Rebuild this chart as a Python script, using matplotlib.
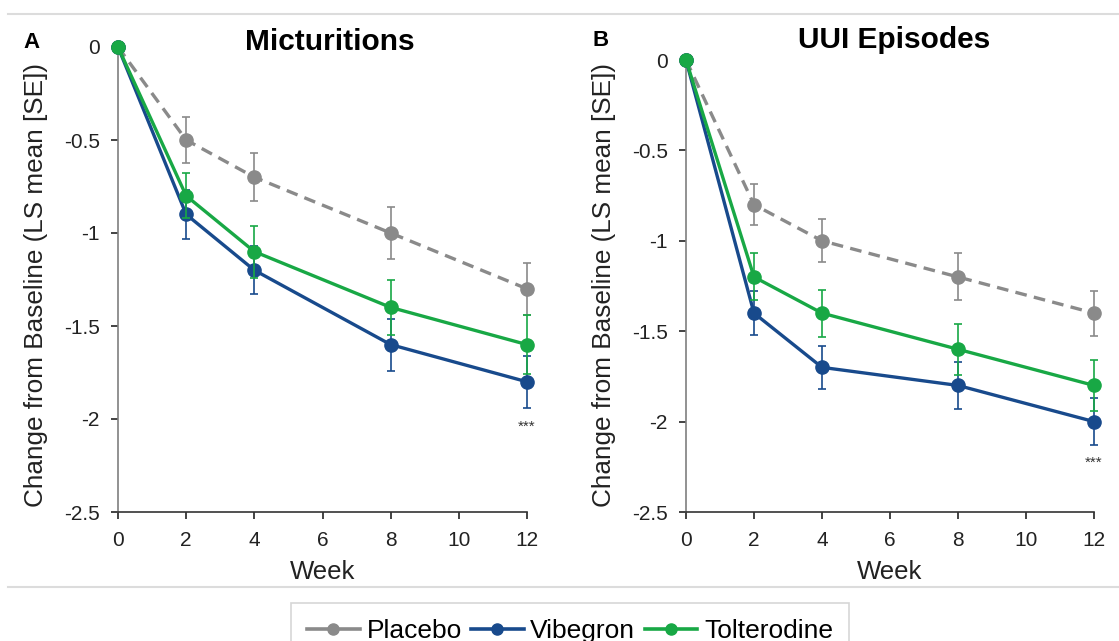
import numpy as np
import matplotlib.pyplot as plt
from matplotlib.lines import Line2D

plt.rcParams['font.family'] = ['Liberation Sans', 'DejaVu Sans']

weeks = [0, 2, 4, 8, 12]

# panel A - micturitions
mic_placebo = [0, -0.5, -0.7, -1.0, -1.3]
mic_placebo_se = [0, 0.125, 0.13, 0.14, 0.14]
mic_vibegron = [0, -0.9, -1.2, -1.6, -1.8]
mic_vibegron_se = [0, 0.13, 0.13, 0.14, 0.14]
mic_tolterodine = [0, -0.8, -1.1, -1.4, -1.6]
mic_tolterodine_se = [0, 0.12, 0.14, 0.15, 0.16]

# panel B - UUI episodes
uui_placebo = [0, -0.8, -1.0, -1.2, -1.4]
uui_placebo_se = [0, 0.115, 0.12, 0.13, 0.125]
uui_vibegron = [0, -1.4, -1.7, -1.8, -2.0]
uui_vibegron_se = [0, 0.12, 0.12, 0.13, 0.13]
uui_tolterodine = [0, -1.2, -1.4, -1.6, -1.8]
uui_tolterodine_se = [0, 0.13, 0.13, 0.14, 0.14]

xticks = [0, 2, 4, 6, 8, 10, 12]
yticks = [0, -0.5, -1, -1.5, -2, -2.5]
ytick_labels = ['0', '-0.5', '-1', '-1.5', '-2', '-2.5']

c_pl = '#8a8a8a'
c_vi = '#184a8c'
c_to = '#18a845'
dash = (0, (3.5, 2.2))

W, H = 1119, 641
fig = plt.figure(figsize=(W / 100, H / 100), dpi=100)


def box(l, r, t, b):
    return [l / W, 1 - b / H, (r - l) / W, (b - t) / H]


axA = fig.add_axes(box(118, 527, 47, 512))
axB = fig.add_axes(box(686, 1094, 60, 512))


def draw(ax, pl, pl_se, vi, vi_se, to, to_se, star_y, label_y):
    kw = dict(marker='o', markersize=9.5, lw=2.4, elinewidth=1.2,
              capsize=3, capthick=1.2, clip_on=False)
    ax.errorbar(weeks, pl, yerr=pl_se, color=c_pl, ls=dash, zorder=3, **kw)
    ax.errorbar(weeks, vi, yerr=vi_se, color=c_vi, zorder=4, **kw)
    ax.errorbar(weeks, to, yerr=to_se, color=c_to, zorder=5, **kw)
    ax.text(12, star_y, '***', ha='center', va='center', fontsize=11,
            color='#333333')
    ax.set_xlim(0, 12)
    ax.set_ylim(-2.5, 0)
    ax.set_xticks(xticks)
    ax.set_yticks(yticks)
    ax.set_yticklabels(ytick_labels)
    ax.tick_params(labelsize=15, colors='#222222', length=5, width=1.2)
    ax.tick_params(axis='x', pad=9)
    ax.tick_params(axis='y', pad=8)
    for s in ['top', 'right']:
        ax.spines[s].set_visible(False)
    ax.spines['left'].set_color('#7f7f7f')
    ax.spines['left'].set_linewidth(1.2)
    ax.spines['bottom'].set_color('#333333')
    ax.spines['bottom'].set_linewidth(1.2)
    ax.set_xlabel('Week', fontsize=18.5, color='#222222', labelpad=7)
    ax.set_ylabel('Change from Baseline (LS mean [SE])', fontsize=18.8,
                  color='#222222')
    ax.yaxis.set_label_coords(-0.172, label_y)


draw(axA, mic_placebo, mic_placebo_se, mic_vibegron, mic_vibegron_se,
     mic_tolterodine, mic_tolterodine_se, -2.04, 0.488)
draw(axB, uui_placebo, uui_placebo_se, uui_vibegron, uui_vibegron_se,
     uui_tolterodine, uui_tolterodine_se, -2.23, 0.502)

fig.text(330 / W, 1 - 42 / H, 'Micturitions', ha='center', va='center',
         fontsize=21.5, fontweight='bold')
fig.text(894 / W, 1 - 40 / H, 'UUI Episodes', ha='center', va='center',
         fontsize=21.5, fontweight='bold')
fig.text(32 / W, 1 - 43 / H, 'A', ha='center', va='center', fontsize=16,
         fontweight='bold')
fig.text(601 / W, 1 - 40 / H, 'B', ha='center', va='center', fontsize=16,
         fontweight='bold')

# separator lines
fig.add_artist(Line2D([8 / W, 1], [1 - 14 / H] * 2, color='#dcdcdc', lw=1.5))
fig.add_artist(Line2D([8 / W, 1], [1 - 587 / H] * 2, color='#dcdcdc', lw=1.5))

names = ['Placebo', 'Vibegron', 'Tolterodine']
handles = [Line2D([], [], color=c, marker='o', markersize=8, lw=2.6)
           for c in [c_pl, c_vi, c_to]]
leg = fig.legend(handles, names, ncol=3, loc='upper center',
                 bbox_to_anchor=(570 / W, 1 - 603 / H), fontsize=19,
                 frameon=True, fancybox=False, edgecolor='#cccccc',
                 handlelength=2.0, handletextpad=0.25, columnspacing=0.35,
                 borderpad=0.6, borderaxespad=0)
leg.get_frame().set_linewidth(1.2)

fig.savefig('out.png', dpi=100)
